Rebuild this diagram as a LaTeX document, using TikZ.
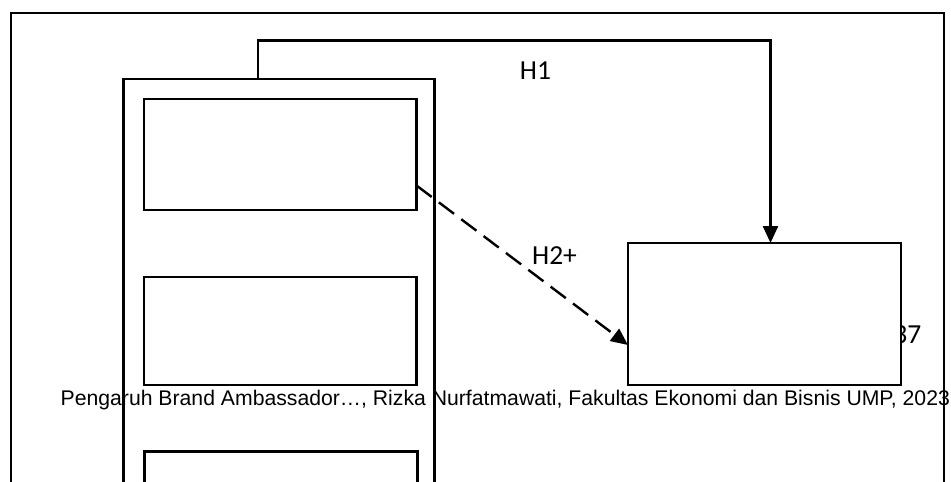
\documentclass[tikz,border=0pt]{standalone}
\usepackage{fontspec}
\setmainfont{Liberation Sans}
\newfontfamily\labelfont{Carlito}
\usetikzlibrary{arrows.meta}
\begin{document}
\begin{tikzpicture}[x=1pt,y=-1pt,
  frame/.style={draw=black,line width=2.4pt},
  box/.style={draw=black,line width=2.4pt,fill=white,rectangle,inner sep=0pt,outer sep=0pt,anchor=north west},
  link/.style={draw=black,line width=2.4pt,-{Triangle[length=17pt,width=15pt]}},
  hyp/.style={font=\labelfont\fontsize{27.5}{30}\selectfont,inner sep=0pt},
  footer/.style={font=\fontsize{21.2}{24}\selectfont,inner sep=0pt,anchor=base west}]
  \useasboundingbox (0,0) rectangle (951,482);
  \clip (0,0) rectangle (951,482);

  % running footer and page number behind the drawing
  \node[footer] (foot) at (60.5,405) {Pengaruh Brand Ambassador\ldots, Rizka Nurfatmawati, Fakultas Ekonomi dan Bisnis UMP, 2023};
  \node[hyp,anchor=base east] (page) at (921.5,343) {37};

  % outer frame (continues past the lower edge)
  \draw[frame] (11,520) -- (11,13) -- (944,13) -- (944,520);

  % column of independent variables
  \node[box,fill=none,minimum width=311pt,minimum height=440pt] (col) at (123.5,79) {};
  \node[box,minimum width=272.5pt,minimum height=111pt] (x1) at (144,99) {};
  \node[box,minimum width=272.5pt,minimum height=108pt] (x2) at (144,277) {};
  \node[box,minimum width=273pt,minimum height=100pt] (x3) at (144.5,451.5) {};

  % dependent variable
  \node[box,minimum width=273pt,minimum height=142pt] (y) at (628,243) {};

  % H1 path from the column to the dependent variable
  \coordinate (c1) at (258,40.5);
  \coordinate (c2) at (770.5,40.5);
  \draw[link] (col.north -| c1) -- (c1) -- (c2) -- (y.north -| c2);
  \node[hyp] (h1) at (535.5,71) {H1};

  % H2 dashed path
  \draw[link,dash pattern=on 19pt off 9pt] (416.5,185.5) -- (y.west |- 0,345);
  \node[hyp] (h2) at (554.5,255.5) {H2+};
\end{tikzpicture}
\end{document}
